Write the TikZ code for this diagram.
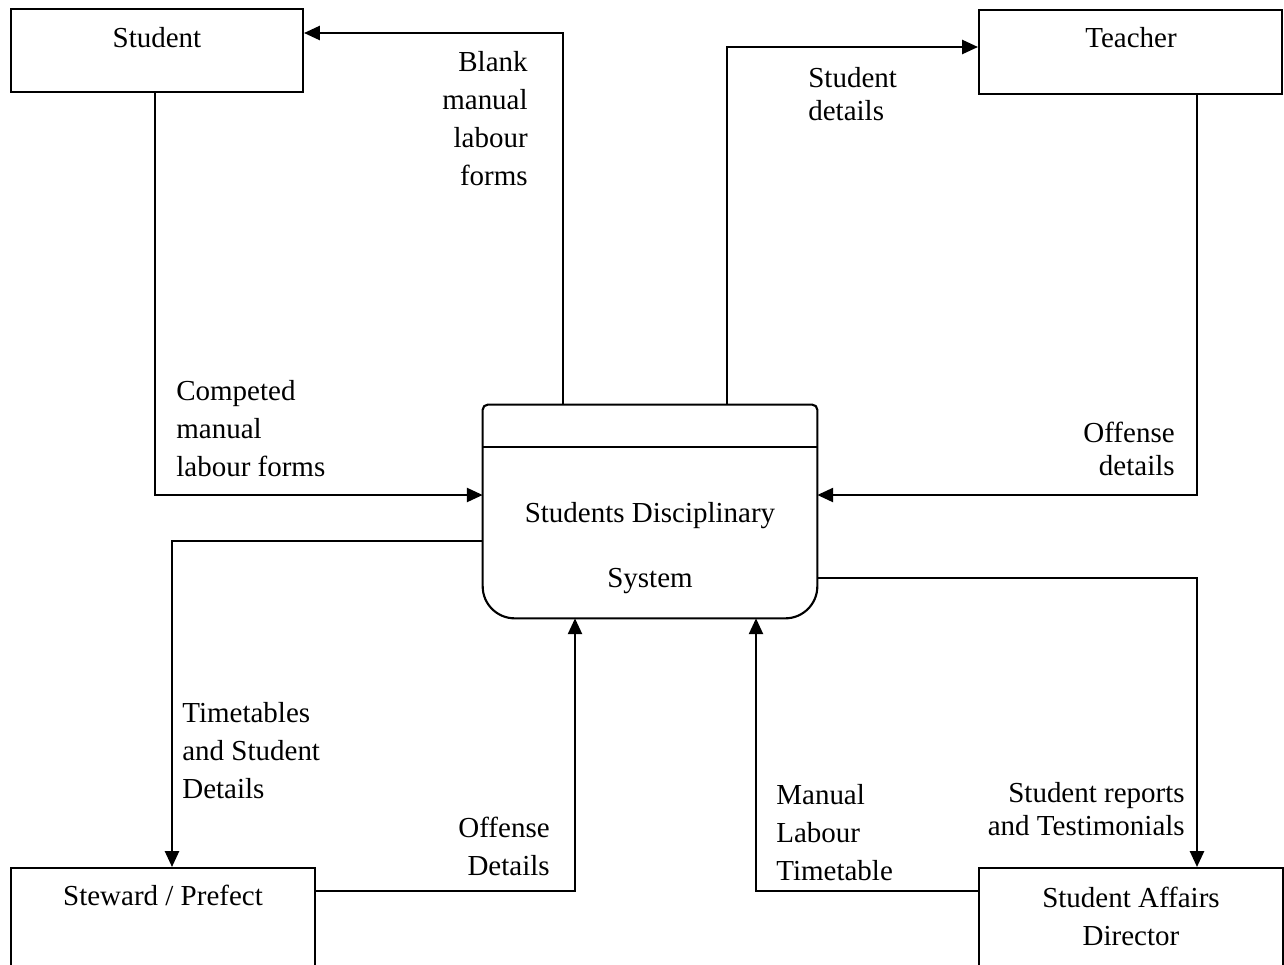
\documentclass[tikz,border=0pt]{standalone}
\usepackage{fontspec}
\setmainfont{Liberation Serif}
\usetikzlibrary{arrows.meta}
\usetikzlibrary{calc}

\tikzset{
  entity/.style={draw, line width=1.2pt, inner sep=0pt},
  flow/.style={line width=1.2pt, ->, >={Triangle[length=9pt,width=8pt]}},
  lbl/.style={inner sep=0pt, font=\fontsize{16.5pt}{21.6pt}\selectfont},
  lblt/.style={inner sep=0pt, font=\fontsize{16.5pt}{18.7pt}\selectfont},
}

\begin{document}
\begin{tikzpicture}[x=0.02cm, y=-0.02cm]
\useasboundingbox (0,0) rectangle (1284,964);
% external entities
\node[entity, minimum width=5.84cm, minimum height=1.66cm] (stu) at (157,50.5) {};
\node[entity, minimum width=6.06cm, minimum height=1.68cm] (tea) at (1130.5,52) {};
\node[entity, minimum width=6.08cm, minimum height=2.4cm] (stw) at (163,928) {};
\node[entity, minimum width=6.08cm, minimum height=2.4cm] (sad) at (1131,928) {};
\node[lbl, anchor=base] (stu-t) at (157,47) {Student};
\node[lbl, anchor=base] (tea-t) at (1131,47) {Teacher};
\node[lbl, anchor=base] (stw-t) at (163,905) {Steward / Prefect};
\node[lbl, anchor=base, align=center] (sad-t) at (1131,945) {Student Affairs\\Director};

% process
\node[minimum width=6.68cm, minimum height=4.26cm, inner sep=0pt] (proc) at (650,511.5) {};
\draw[line width=1.2pt] ([yshift=-0.1cm]proc.north west) -- ([yshift=0.64cm]proc.south west)
  arc[start angle=180, end angle=270, radius=0.64cm] -- ([xshift=-0.64cm]proc.south east)
  arc[start angle=270, end angle=360, radius=0.64cm] -- ([yshift=-0.1cm]proc.north east)
  arc[start angle=0, end angle=90, radius=0.1cm] -- ([xshift=0.1cm]proc.north west)
  arc[start angle=90, end angle=180, radius=0.1cm] -- cycle;
\draw[line width=1.2pt] ([yshift=-0.84cm]proc.north west) -- ([yshift=-0.84cm]proc.north east);
\node[anchor=base, align=center, inner sep=0pt, font=\fontsize{16.5pt}{37pt}\selectfont] (proc-t) at (650,587) {Students Disciplinary\\System};

% data flows
\coordinate (blk) at (563,33);
\coordinate (sdt) at (727,47);
\coordinate (cmp) at (155,495);
\coordinate (ofd) at (1197,495);
\coordinate (tim) at (172,541);
\coordinate (ofs) at (575,891);
\coordinate (man) at (756,891);
\coordinate (rep) at (1197,578);
\draw[flow] (proc.north -| blk) |- (stu.east |- blk);
\draw[flow] (proc.north -| sdt) |- (tea.west |- sdt);
\draw[flow] (stu.south -| cmp) |- (proc.west |- cmp);
\draw[flow] (tea.south -| ofd) |- (proc.east |- ofd);
\draw[flow] (proc.west |- tim) -| (stw.north -| tim);
\draw[flow] (stw.east |- ofs) -| (proc.south -| ofs);
\draw[flow] (sad.west |- man) -| (proc.south -| man);
\draw[flow] (proc.east |- rep) -| (sad.north -| rep);

% flow labels
\node[lbl, anchor=base east, align=right] (blk-t) at (528,185) {Blank\\manual\\labour\\forms};
\node[lblt, anchor=base west, align=left] (sdt-t) at (808,120) {Student\\details};
\node[lbl, anchor=base west, align=left] (cmp-t) at (176,476) {Competed\\manual\\labour forms};
\node[lblt, anchor=base east, align=right] (ofd-t) at (1175,475) {Offense\\details};
\node[lbl, anchor=base west, align=left] (tim-t) at (182,798) {Timetables\\and Student\\Details};
\node[lbl, anchor=base east, align=right] (ofs-t) at (550,875) {Offense\\Details};
\node[lbl, anchor=base west, align=left] (man-t) at (776,880) {Manual\\Labour\\Timetable};
\node[lblt, anchor=base east, align=right] (rep-t) at (1185,835) {Student reports\\and Testimonials};
\end{tikzpicture}
\end{document}
